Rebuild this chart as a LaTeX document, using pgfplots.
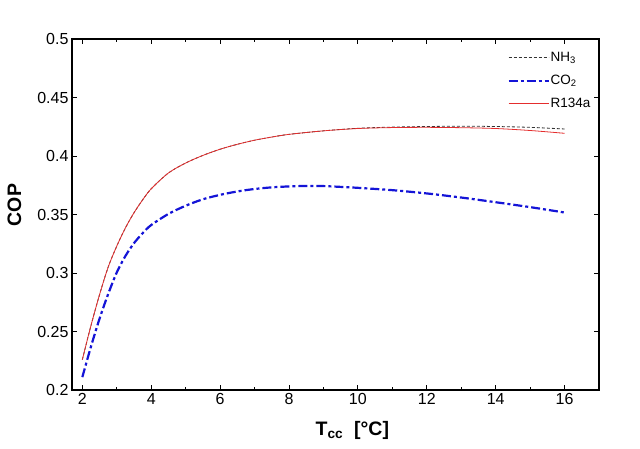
\documentclass[border=0pt]{standalone}
\usepackage{fontspec}
\setmainfont{Liberation Sans}
\usepackage{pgfplots}
\pgfplotsset{compat=1.18}
\definecolor{cored}{RGB}{228,45,45}
\definecolor{coblue}{RGB}{20,20,215}
\begin{document}
\begin{tikzpicture}
\useasboundingbox (-72pt,-58pt) rectangle (568pt,390pt);
\begin{axis}[
  at={(0pt,0pt)}, anchor=south west,
  scale only axis, width=527pt, height=351pt,
  xmin=1.7, xmax=17, ymin=0.2, ymax=0.5,
  xtick={2,4,...,16}, minor x tick num=1,
  ytick={0.2,0.25,0.3,0.35,0.4,0.45,0.5},
  yticklabels={0.2,0.25,0.3,0.35,0.4,0.45,0.5},
  /pgf/number format/assume math mode=true,
  tick label style={font=\fontsize{16}{16}\selectfont},
  tick align=inside,
  axis line style={line width=1.5pt},
  major tick style={line width=0.9pt, black},
  minor tick style={line width=0.9pt, black},
  major tick length=5pt, minor tick length=3pt,
  xlabel={\textbf{T\textsubscript{cc}\ \ [°C]}},
  ylabel={\textbf{COP}},
  xlabel style={font=\fontsize{19.5}{19.5}\selectfont, at={(axis description cs:0.532,0)}, anchor=center, yshift=-40pt},
  ylabel style={font=\fontsize{19.5}{19.5}\selectfont, at={(axis description cs:0,0.527)}, anchor=center, yshift=57.5pt},
  legend style={draw=none, fill=none, at={(axis description cs:0.986,0.965)}, anchor=north east,
    font=\fontsize{13.5}{13.5}\selectfont, row sep=10pt, inner sep=0pt, nodes={inner sep=1pt}},
  legend cell align=left,
  legend image code/.code={\draw[#1] (0pt,0pt) -- (40pt,0pt);},
]
\addplot[black!80, line width=0.8pt, dash pattern=on 3pt off 2pt, smooth, tension=0.5] coordinates {
(2.0,0.226) (2.25,0.255) (2.5,0.2815) (2.75,0.305) (3.0,0.323) (3.25,0.3385) (3.5,0.3515)
(3.75,0.3625) (4.0,0.372) (4.5,0.3855) (5.0,0.394) (5.5,0.4005) (6.0,0.4058) (6.5,0.4100)
(7.0,0.4135) (7.5,0.4162) (8.0,0.4185) (9.0,0.4215) (10.0,0.4237) (11.0,0.4247)
(12.0,0.4252) (13.0,0.4255) (14.0,0.4252) (15.0,0.4245) (16.0,0.4231)};
\addlegendentry{NH\textsubscript{3}}
\addplot[coblue, line width=2.2pt, dash pattern=on 9pt off 3pt on 3pt off 3pt, smooth, tension=0.5] coordinates {
(2.0,0.211) (2.25,0.237) (2.5,0.261) (2.75,0.282) (3.0,0.3005) (3.25,0.3145) (3.5,0.3255)
(3.75,0.3340) (4.0,0.3410) (4.5,0.3505) (5.0,0.3575) (5.5,0.3630) (6.0,0.3668) (6.5,0.3697)
(7.0,0.3718) (7.5,0.3732) (8.0,0.3740) (8.5,0.3744) (9.0,0.3743) (9.5,0.3736) (10.0,0.3728)
(11.0,0.3708) (12.0,0.368) (13.0,0.3645) (14.0,0.3605) (15.0,0.3563) (16.0,0.3517)};
\addlegendentry{CO\textsubscript{2}}
\addplot[cored, line width=0.8pt, smooth, tension=0.5] coordinates {
(2.0,0.226) (2.25,0.255) (2.5,0.2815) (2.75,0.305) (3.0,0.323) (3.25,0.3385) (3.5,0.3515)
(3.75,0.3625) (4.0,0.372) (4.5,0.3855) (5.0,0.394) (5.5,0.4005) (6.0,0.4058) (6.5,0.4100)
(7.0,0.4135) (7.5,0.4162) (8.0,0.4185) (9.0,0.4215) (10.0,0.4235) (11.0,0.4243)
(12.0,0.4245) (13.0,0.4242) (14.0,0.4235) (15.0,0.4218) (16.0,0.4194)};
\addlegendentry{R134a}
\end{axis}
\end{tikzpicture}
\end{document}
